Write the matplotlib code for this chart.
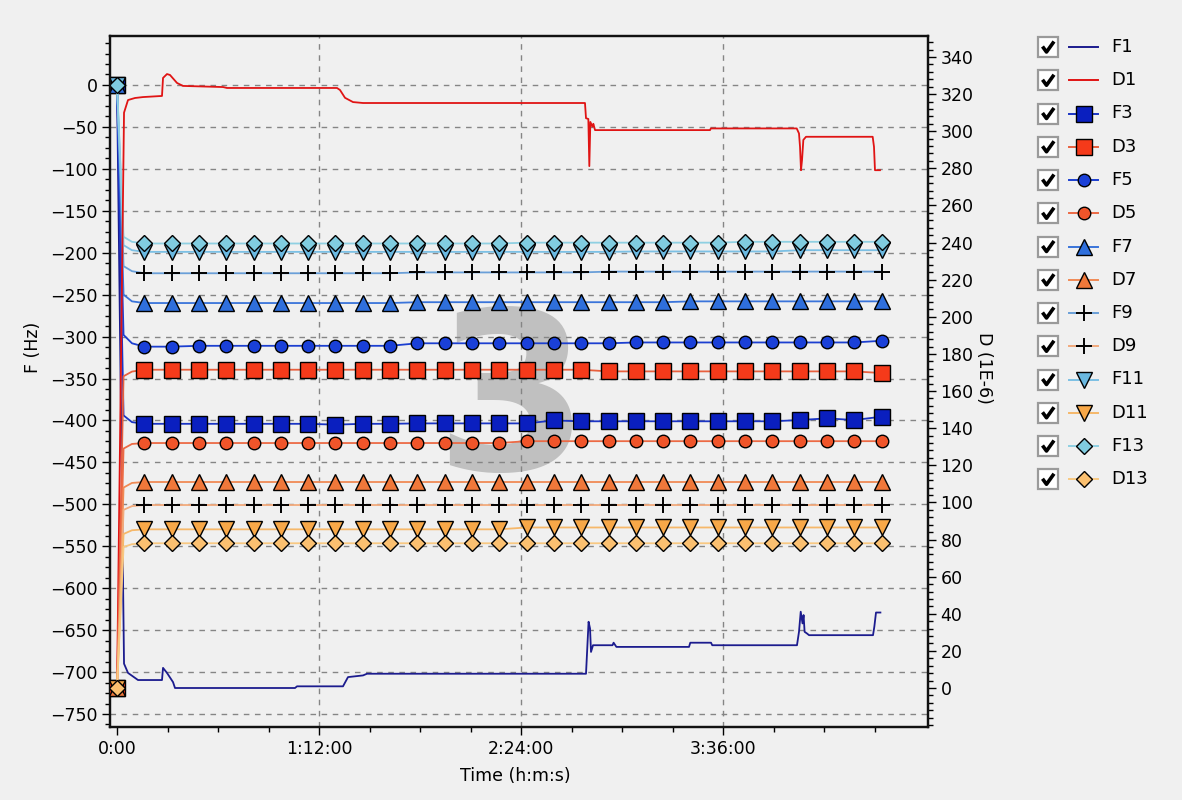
import numpy as np
import matplotlib.pyplot as plt
from matplotlib.ticker import MultipleLocator, FixedLocator, FuncFormatter
from matplotlib.patches import Rectangle

plt.rcParams['font.family'] = ['DejaVu Sans']

# ---- data -------------------------------------------------------------
# time in seconds; markers are drawn every MARK_STEP seconds
MARK_STEP = 584
HEAD_T = [0, 140, 320]
mark_t = MARK_STEP * np.arange(1, 29)

x_major = [0, 4320, 8640, 12960]          # 0:00, 1:12:00, 2:24:00, 3:36:00
x_minor = np.arange(0, 16201, 1080)

# F1 (Hz, left axis) and D1 (1E-6, right axis) breakpoints, no markers
f1_t = [0, 150, 235, 449, 962, 984, 1069, 1198, 1240, 3807, 3850, 4833, 4940,
        5261, 5346, 10030, 10085, 10116, 10137, 10180, 10597, 10620, 10680,
        12233, 12260, 12703, 12730, 14542, 14585, 14622, 14660, 14683, 14705,
        14756, 14800, 16168, 16196, 16232, 16326]
f1_v = [0, -690, -701, -709.5, -709.5, -695, -701, -712, -719, -719, -717,
        -717, -706, -704, -702, -702, -640, -648, -676, -668, -668, -665, -670,
        -670, -665, -665, -668, -668, -652, -628, -642, -632, -652, -654, -656,
        -656, -646, -629, -629]

d1_t = [0, 150, 235, 385, 556, 962, 984, 1069, 1133, 1283, 1411, 2267, 2352,
        4705, 4769, 4876, 5047, 5261, 10008, 10030, 10080, 10101, 10123, 10166,
        10187, 10223, 12682, 12700, 14536, 14585, 14607, 14628, 14650, 14678,
        14735, 16161, 16189, 16210, 16317]
d1_v = [0, 310, 316.8, 317.9, 318.4, 319, 328.7, 330.8, 330.3, 326, 324.4,
        323.8, 323.3, 323.3, 322.2, 318, 315.7, 315.2, 315.2, 307, 306.6, 281.2,
        305, 302.5, 304, 300.6, 300.6, 301.5, 301.5, 298.8, 291.6, 279, 284.5,
        295.3, 297, 297, 291.6, 279, 279]

# marked series: start-up values, then one value per marker
f3_head = [0, -394, -402]
f3_mark = [-404]*7 + [-405] + [-404]*2 + [-403.5]*5 + [-400] + [-401]*8 + [-399.5, -397.5, -399.5, -395.5]
d3_head = [0, 168, 170.5]
d3_mark = [171.5]*17 + [170.6]*10 + [169.7]
f5_head = [0, -298, -308]
f5_mark = [-312]*2 + [-311]*8 + [-308]*8 + [-307]*9 + [-305]
d5_head = [0, 129, 131.5]
d5_mark = [132]*14 + [133]*14
f7_head = [0, -250, -258]
f7_mark = [-260]*10 + [-259]*10 + [-258]*8
d7_head = [0, 108, 110.5]
d7_mark = [111]*28
f9_head = [0, -216, -222]
f9_mark = [-224.5]*10 + [-223.5]*7 + [-222.5]*11
d9_head = [0, 96, 98]
d9_mark = [98.6]*28
f11_head = [0, -191, -197]
f11_mark = [-199]*18 + [-198.5]*6 + [-197]*4
d11_head = [0, 83, 85]
d11_mark = [85.5]*14 + [86.5]*14
f13_head = [0, -181, -187]
f13_mark = [-189]*14 + [-188]*8 + [-187]*6
d13_head = [0, 76, 77.5]
d13_mark = [78]*28

names = ['F1', 'D1', 'F3', 'D3', 'F5', 'D5', 'F7', 'D7',
         'F9', 'D9', 'F11', 'D11', 'F13', 'D13']

# name: (line colour, marker, marker face, marker size)
styles = {
    'F1':  ('#1c1c8e', None, None, 0),
    'D1':  ('#e01414', None, None, 0),
    'F3':  ('#1a34c4', 's', '#0a1fbf', 12),
    'D3':  ('#e8603e', 's', '#f53a1a', 12),
    'F5':  ('#1c3fd0', 'o', '#1a40d8', 9),
    'D5':  ('#ec6a45', 'o', '#f0552a', 9),
    'F7':  ('#3a74da', '^', '#2f6fdc', 11),
    'D7':  ('#f08a55', '^', '#f0783a', 11),
    'F9':  ('#6a9fd8', '+', 'black', 12),
    'D9':  ('#f2aa7c', '+', 'black', 12),
    'F11': ('#7cc0e4', 'v', '#6ab8e0', 11),
    'D11': ('#f6b86a', 'v', '#f8a848', 11),
    'F13': ('#8fd0e2', 'D', '#80cce0', 8.5),
    'D13': ('#f8c882', 'D', '#fbc070', 8.5),
}

marked = {
    'F3': (f3_head, f3_mark), 'D3': (d3_head, d3_mark),
    'F5': (f5_head, f5_mark), 'D5': (d5_head, d5_mark),
    'F7': (f7_head, f7_mark), 'D7': (d7_head, d7_mark),
    'F9': (f9_head, f9_mark), 'D9': (d9_head, d9_mark),
    'F11': (f11_head, f11_mark), 'D11': (d11_head, d11_mark),
    'F13': (f13_head, f13_mark), 'D13': (d13_head, d13_mark),
}

BG = '#f0f0f0'
GRID = dict(color='#858585', ls=(0, (4, 4)), lw=1, zorder=0.5)


def marker_kw(name):
    lc, m, fc, ms = styles[name]
    if m is None:
        return {}
    if m == '+':
        return dict(marker=m, ms=ms, mec='black', mew=1.4)
    return dict(marker=m, ms=ms, mfc=fc, mec='black', mew=1.0)


def hms(x, pos):
    s = int(round(x))
    if s == 0:
        return '0:00'
    return '%d:%02d:%02d' % (s // 3600, s % 3600 // 60, s % 60)


fig = plt.figure(figsize=(11.82, 8), dpi=100, facecolor=BG)
ax = fig.add_axes([110/1182, 1 - 727/800, 818/1182, 691/800])
ax.set_facecolor(BG)
ax2 = ax.twinx()

ax.set_xlim(-150, 17344)
ax.set_ylim(-765.5, 58.4)
ax2.set_ylim(-21, 351.3)

# ---- series -------------------------------------------------------------
ax.plot(f1_t, f1_v, color=styles['F1'][0], lw=1.3, zorder=3)
ax2.plot(d1_t, d1_v, color=styles['D1'][0], lw=1.3, zorder=3)

t_all = np.concatenate([HEAD_T, mark_t])
every = [0] + list(range(len(HEAD_T), len(t_all)))
for name in names[2:]:
    head, marks = marked[name]
    target = ax if name.startswith('F') else ax2
    target.plot(t_all, head + marks, color=styles[name][0], lw=1.3,
                markevery=every, zorder=3, **marker_kw(name))

# ---- axes cosmetics -----------------------------------------------------
ax.xaxis.set_major_locator(FixedLocator(x_major))
ax.xaxis.set_minor_locator(FixedLocator(x_minor))
ax.xaxis.set_major_formatter(FuncFormatter(hms))
y_major = np.arange(-750, 1, 50)
ax.yaxis.set_major_locator(FixedLocator(y_major))
ax.yaxis.set_minor_locator(MultipleLocator(12.5))
ax2.yaxis.set_major_locator(FixedLocator(np.arange(0, 341, 20)))
ax2.yaxis.set_minor_locator(MultipleLocator(4))

for a in (ax, ax2):
    a.tick_params(which='major', direction='out', length=6, width=1,
                  labelsize=12.5, pad=3, colors='black')
    a.tick_params(which='minor', direction='out', length=3.5, width=1)
    for sp in a.spines.values():
        sp.set_linewidth(1.6)
        sp.set_color('#111111')

# dashed grid: every F major, x majors except the 0:00 one
for yv in y_major:
    ax.axhline(yv, **GRID)
for xv in x_major[1:]:
    ax.axvline(xv, **GRID)

ax.set_xlabel('Time (h:m:s)', fontsize=12.5)
ax.xaxis.set_label_coords(0.496, -0.058)
ax.set_ylabel('F (Hz)', fontsize=12.5)
ax.yaxis.set_label_coords(-0.083, 0.55)
ax2.set_ylabel('D (1E-6)', fontsize=12.5, rotation=270, va='bottom')
ax2.yaxis.set_label_coords(1.058, 0.52)

# big page number in the background
ax.text(0.491, 0.372, '3', transform=ax.transAxes, fontsize=160,
        fontweight='bold', color='#c0c0c0', ha='center', va='baseline',
        zorder=0.1)

# ---- legend with check boxes --------------------------------------------
leg = fig.add_axes([0, 0, 1, 1])
leg.set_xlim(0, 1182)
leg.set_ylim(800, 0)
leg.axis('off')
for i, name in enumerate(names):
    y = 47 + 33.25 * i
    leg.add_patch(Rectangle((1038, y - 10), 20, 20, facecolor='white',
                            edgecolor='#9a9a9a', lw=1.6))
    leg.plot([1042.5, 1046.5, 1054], [y - 0.5, y + 5, y - 5.5], color='black',
             lw=2.6, solid_capstyle='butt')
    leg.plot([1069, 1098], [y, y], color=styles[name][0], lw=1.4)
    if styles[name][1] is not None:
        leg.plot([1083.5], [y], ls='none', **marker_kw(name))
    leg.text(1111, y, name, va='center', ha='left', fontsize=13)

fig.savefig('out.png', dpi=100, facecolor=BG)
